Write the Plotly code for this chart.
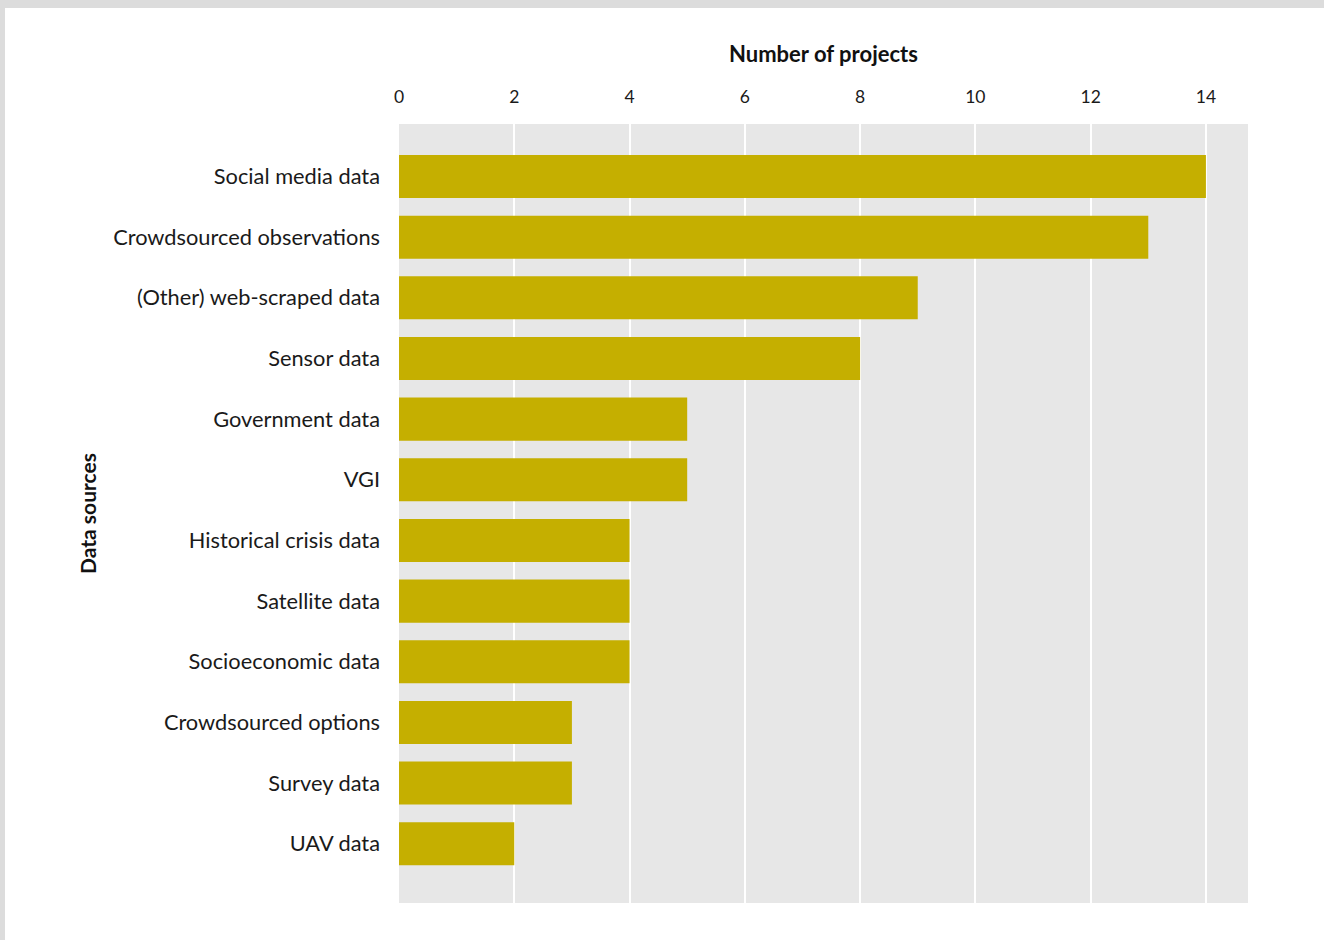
import plotly.graph_objects as go

categories = [
    "Social media data", "Crowdsourced observations", "(Other) web-scraped data",
    "Sensor data", "Government data", "VGI", "Historical crisis data",
    "Satellite data", "Socioeconomic data", "Crowdsourced options",
    "Survey data", "UAV data",
]
projects = [14, 13, 9, 8, 5, 5, 4, 4, 4, 3, 3, 2]
x_ticks = [0, 2, 4, 6, 8, 10, 12, 14]

W, H = 1324, 940
ML, MR, MT, MB = 399, 76, 124, 37
PW, PH = W - ML - MR, H - MT - MB
FONT = "Lato, 'Open Sans', sans-serif"

fig = go.Figure(go.Bar(
    x=projects, y=list(range(len(categories))), orientation="h",
    marker=dict(color="#C5AF00", line=dict(width=0)),
    width=0.71, hoverinfo="x+y",
))

def px_x(p):
    return (p - ML) / PW

def px_y(p):
    return 1 - (p - MT) / PH

fig.update_layout(
    width=W, height=H,
    margin=dict(l=ML, r=MR, t=MT, b=MB, pad=0),
    paper_bgcolor="white", plot_bgcolor="#E7E7E7",
    font=dict(family=FONT, color="#1a1a1a"),
    showlegend=False,
    xaxis=dict(
        side="top", range=[0, 14.73], tickvals=x_ticks,
        ticktext=[str(v) for v in x_ticks],
        showgrid=True, gridcolor="white", gridwidth=2,
        zeroline=False, showline=False, ticks="",
        tickfont=dict(size=17.5, family=FONT, color="#1a1a1a"),
        ticklabelstandoff=17,
        title=dict(text="<b>Number of projects</b>", font=dict(size=22, family=FONT, color="#111"), standoff=16),
    ),
    yaxis=dict(
        range=[11.977, -0.866],
        tickvals=list(range(len(categories))), ticktext=categories,
        showgrid=False, zeroline=False, showline=False, ticks="",
        tickfont=dict(size=21.8, family=FONT, color="#1a1a1a"),
        ticklabelstandoff=18,
        title=dict(text="<b>Data sources</b>", font=dict(size=21, family=FONT, color="#111"), standoff=10),
    ),
    shapes=[
        dict(type="rect", xref="paper", yref="paper",
             x0=px_x(0), x1=px_x(W), y0=px_y(0), y1=px_y(8),
             fillcolor="#DCDCDC", line=dict(width=0), layer="above"),
        dict(type="rect", xref="paper", yref="paper",
             x0=px_x(0), x1=px_x(5), y0=px_y(0), y1=px_y(H),
             fillcolor="#DCDCDC", line=dict(width=0), layer="above"),
    ],
)

fig.write_html("out.html")
